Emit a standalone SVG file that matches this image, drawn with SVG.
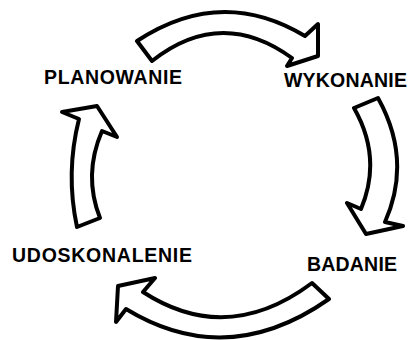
<svg xmlns="http://www.w3.org/2000/svg" width="414" height="340" viewBox="0 0 414 340">
<style>
.arrow{fill:#fff;stroke:#000;stroke-width:4;stroke-linejoin:round}
.lbl{font-family:"Liberation Sans",Arial,sans-serif;font-weight:bold;font-size:19.5px;fill:#000}
</style>
<rect width="414" height="340" fill="#fff"/>
<g id="connectors">
<path class="arrow" d="M137,41 Q221,-14.5 305,36 L318,24 L318,56 L287,66 L292,58 Q221,6.5 152,61 Z"/>
<path class="arrow" d="M378,98 Q412.5,160 385,222 L403,226 L366,234 L347,203 L361,209 Q382.5,158 354,108 Z"/>
<path class="arrow" d="M312,283 Q227,346.5 143,292 L155,278 L118,286 L116,322 L126,309 Q227,370.5 329,299 Z"/>
<path class="arrow" d="M100,218 Q83,175 102,131 L117,137 L97,106 L62,112 L79,119 Q65.4,173 77,227 Z"/>
</g>
<g id="planowanie"><text class="lbl" x="44" y="84" textLength="138">PLANOWANIE</text></g>
<g id="wykonanie"><text class="lbl" x="284" y="86.5" textLength="123">WYKONANIE</text></g>
<g id="badanie"><text class="lbl" x="307" y="271" textLength="90">BADANIE</text></g>
<g id="udoskonalenie"><text class="lbl" x="12" y="262" textLength="180">UDOSKONALENIE</text></g>
</svg>
